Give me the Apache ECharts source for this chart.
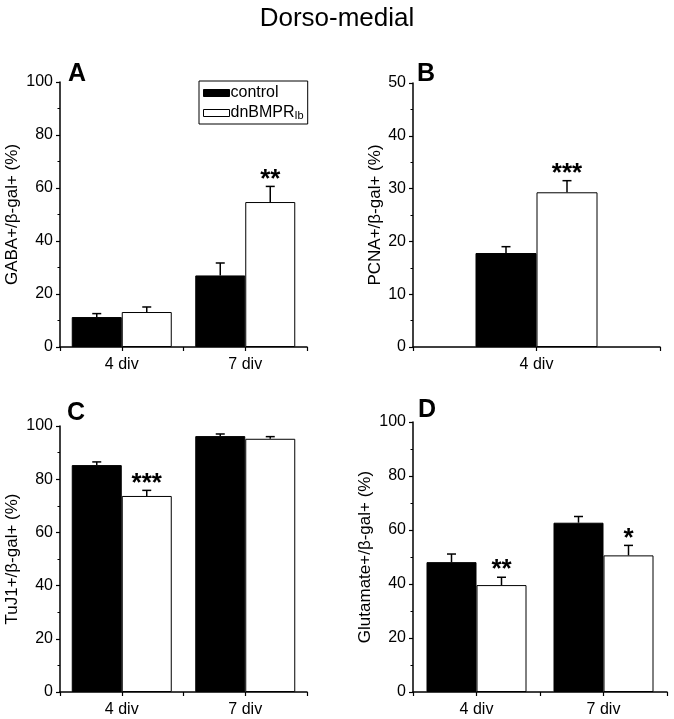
<!DOCTYPE html>
<html><head><meta charset="utf-8">
<script src="https://cdn.jsdelivr.net/npm/echarts@6/dist/echarts.min.js"></script>
<style>html,body{margin:0;padding:0;background:#fff}#c{width:674px;height:719px}</style>
</head><body><div id="c"></div>
<script>
// ---- data ----
const catsTwo = ['4 div', '7 div'];
const catsOne = ['4 div'];

const gabaControl = [11.3, 27.0];
const gabaControlErr = [1.3, 4.7];
const gabaDn = [13.2, 54.7];
const gabaDnErr = [1.9, 5.9];
const gabaSig = ['', '**'];

const pcnaControl = [17.8];
const pcnaControlErr = [1.2];
const pcnaDn = [29.3];
const pcnaDnErr = [2.2];
const pcnaSig = ['***'];

const tujControl = [85.3, 96.2];
const tujControlErr = [1.2, 0.8];
const tujDn = [73.7, 95.2];
const tujDnErr = [2.1, 0.8];
const tujSig = ['***', ''];

const gluControl = [48.1, 62.7];
const gluControlErr = [3.0, 2.3];
const gluDn = [39.6, 50.6];
const gluDnErr = [2.9, 3.7];
const gluSig = ['**', '*'];

const yNames = ['GABA+/\u03b2-gal+ (%)', 'PCNA+/\u03b2-gal+ (%)', 'TuJ1+/\u03b2-gal+ (%)', 'Glutamate+/\u03b2-gal+ (%)'];
const yMax = [100, 50, 100, 100];
const yInterval = [20, 10, 20, 20];
const letters = ['A', 'B', 'C', 'D'];

// ---- layout ----
const FONT = '"Liberation Sans", Arial, sans-serif';
const grids = [
  {left: 60, top: 82, width: 247, height: 265},
  {left: 413, top: 83, width: 247, height: 264},
  {left: 60, top: 426, width: 247, height: 266},
  {left: 413, top: 422, width: 254, height: 270}
];
const panels = [
  {cats: catsTwo, c: gabaControl, ce: gabaControlErr, d: gabaDn, de: gabaDnErr, sig: gabaSig, bw: 50, nameGap: 39},
  {cats: catsOne, c: pcnaControl, ce: pcnaControlErr, d: pcnaDn, de: pcnaDnErr, sig: pcnaSig, bw: 61, nameGap: 29},
  {cats: catsTwo, c: tujControl, ce: tujControlErr, d: tujDn, de: tujDnErr, sig: tujSig, bw: 50, nameGap: 39},
  {cats: catsTwo, c: gluControl, ce: gluControlErr, d: gluDn, de: gluDnErr, sig: gluSig, bw: 50, nameGap: 39}
];
const letterPos = [[68, 62], [417, 62], [67, 401], [418, 398]];

const xAxes = [], yAxes = [], series = [], graphics = [];
panels.forEach((p, i) => {
  const cats = p.cats;
  xAxes.push({
    type: 'value', gridIndex: i, min: 0, max: cats.length * 2, interval: 1,
    axisLine: {show: true, lineStyle: {color: '#000', width: 1.5}},
    axisTick: {show: true, length: 4, lineStyle: {color: '#000', width: 1.2}},
    splitLine: {show: false},
    axisLabel: {
      color: '#000', fontFamily: FONT, fontSize: 16, margin: 10,
      formatter: v => (v % 2 === 1 ? cats[(v - 1) / 2] : '')
    }
  });
  yAxes.push({
    type: 'value', gridIndex: i, min: 0, max: yMax[i], interval: yInterval[i],
    name: yNames[i], nameLocation: 'middle', nameGap: p.nameGap,
    nameTextStyle: {color: '#000', fontFamily: FONT, fontSize: 17},
    axisLine: {show: true, lineStyle: {color: '#000', width: 1.5}},
    axisTick: {show: true, length: 4, lineStyle: {color: '#000', width: 1.2}},
    minorTick: {show: true, splitNumber: 2, length: 2.5, lineStyle: {color: '#000', width: 1}},
    splitLine: {show: false},
    axisLabel: {color: '#000', fontFamily: FONT, fontSize: 16, margin: 7}
  });
  const xs = cats.map((_, k) => 2 * k + 1);
  series.push({
    name: 'control', type: 'bar', xAxisIndex: i, yAxisIndex: i,
    barWidth: p.bw, barGap: '0%',
    itemStyle: {color: '#000', borderColor: '#000', borderWidth: 1},
    data: xs.map((x, k) => [x, p.c[k]]),
    z: 2
  });
  series.push({
    name: 'dnBMPR', type: 'bar', xAxisIndex: i, yAxisIndex: i,
    barWidth: p.bw, barGap: '0%',
    itemStyle: {color: '#fff', borderColor: '#000', borderWidth: 1},
    data: xs.map((x, k) => [x, p.d[k]]),
    z: 2
  });
  const mkErr = (vals, errs, sigs, dir) => ({
    type: 'custom', xAxisIndex: i, yAxisIndex: i, clip: false, z: 5,
    data: xs.map((x, k) => [x, vals[k], errs[k]]),
    renderItem: (params, api) => {
      const x = api.value(0), v = api.value(1), e = api.value(2);
      const s = sigs ? sigs[params.dataIndex] : '';
      const off = dir * p.bw / 2;
      const p0 = api.coord([x, v]);
      const p1 = api.coord([x, v + e]);
      const cx = p0[0] + off;
      const lw = 1.5, cap = 4.5;
      const children = [
        {type: 'line', shape: {x1: cx, y1: p0[1], x2: cx, y2: p1[1]}, style: {stroke: '#000', lineWidth: lw}},
        {type: 'line', shape: {x1: cx - cap, y1: p1[1], x2: cx + cap, y2: p1[1]}, style: {stroke: '#000', lineWidth: lw}}
      ];
      if (s) {
        children.push({type: 'text', x: cx, y: p1[1] + 6,
          style: {text: s, fill: '#000', font: 'bold 26px ' + FONT, align: 'center', verticalAlign: 'bottom'}});
      }
      return {type: 'group', children};
    }
  });
  series.push(mkErr(p.c, p.ce, null, -1));
  series.push(mkErr(p.d, p.de, p.sig, 1));
  graphics.push({type: 'text', left: letterPos[i][0], top: letterPos[i][1],
    style: {text: letters[i], fill: '#000', font: 'bold 25px ' + FONT}});
});

const chart = echarts.init(document.getElementById('c'), null, {renderer: 'canvas'});
chart.setOption({
  backgroundColor: '#fff',
  animation: false,
  title: {text: 'Dorso-medial', left: 'center', top: 1,
    textStyle: {fontFamily: FONT, fontSize: 26, fontWeight: 'normal', color: '#000'}},
  grid: grids.map(g => Object.assign({containLabel: false}, g)),
  xAxis: xAxes,
  yAxis: yAxes,
  legend: {
    orient: 'vertical', left: 199, top: 81, padding: [4, 4, 3, 4],
    borderColor: '#000', borderWidth: 1, itemWidth: 26, itemHeight: 7, itemGap: 4,
    data: [
      {name: 'control', icon: 'rect', itemStyle: {color: '#000', borderColor: '#000', borderWidth: 1}},
      {name: 'dnBMPR', icon: 'rect', itemStyle: {color: '#fff', borderColor: '#000', borderWidth: 1}}
    ],
    formatter: n => (n === 'dnBMPR' ? 'dnBMPR{s|Ib}' : n),
    textStyle: {color: '#000', fontFamily: FONT, fontSize: 16, padding: [0, 0, 0, -4],
      rich: {s: {fontFamily: FONT, fontSize: 11, color: '#000', padding: [5, 0, 0, 0]}}}
  },
  graphic: graphics,
  series
});
</script></body></html>
